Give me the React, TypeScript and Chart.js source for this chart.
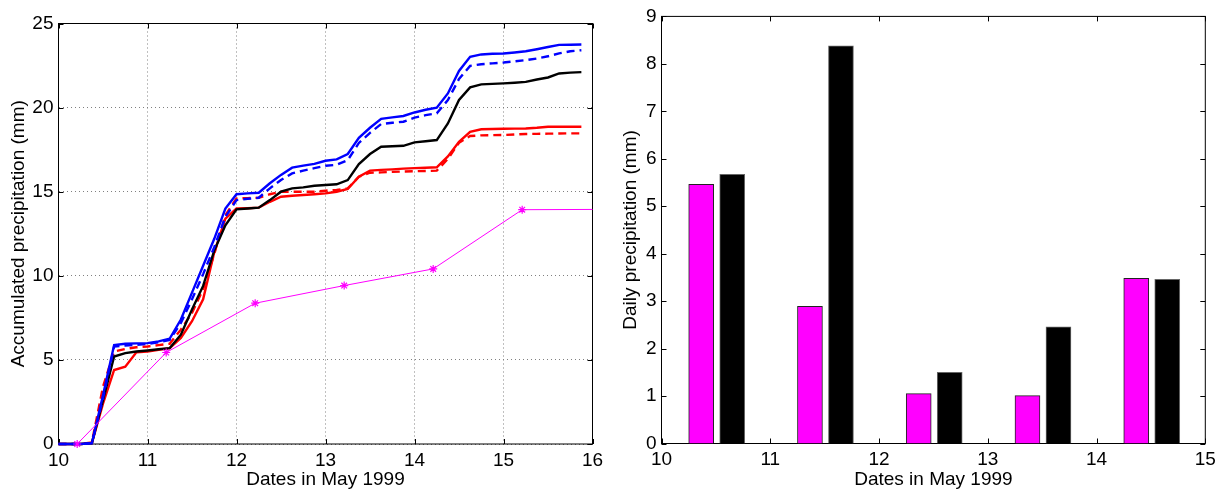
import React, { useEffect, useRef } from "react";
import { Chart, registerables } from "chart.js";

Chart.register(...registerables);

const FONT = "'Liberation Sans', Arial, Helvetica, sans-serif";

// ---------- Left chart: accumulated precipitation ----------
const accDates = [
  10, 10.125, 10.25, 10.375, 10.5, 10.625, 10.75, 10.875,
  11, 11.125, 11.25, 11.375, 11.5, 11.625, 11.75, 11.875,
  12, 12.125, 12.25, 12.375, 12.5, 12.625, 12.75, 12.875,
  13, 13.125, 13.25, 13.375, 13.5, 13.625, 13.75, 13.875,
  14, 14.125, 14.25, 14.375, 14.5, 14.625, 14.75, 14.875,
  15, 15.125, 15.25, 15.375, 15.5, 15.625, 15.75, 15.875,
];
const blueSolid = [
  0, 0, 0, 0.05, 2.9, 5.88, 5.96, 5.98,
  6.0, 6.1, 6.27, 7.4, 9.0, 10.6, 12.2, 14.0,
  14.85, 14.9, 14.94, 15.5, 16.0, 16.43, 16.55, 16.65,
  16.84, 16.92, 17.24, 18.2, 18.8, 19.33, 19.42, 19.5,
  19.71, 19.87, 19.99, 20.84, 22.18, 23.02, 23.16, 23.2,
  23.22, 23.28, 23.35, 23.47, 23.6, 23.73, 23.74, 23.75,
];
const blueDashed = [
  0, 0, 0, 0.05, 2.7, 5.8, 5.85, 5.9,
  5.95, 6.05, 6.19, 7.2, 8.6, 10.1, 11.7, 13.5,
  14.5, 14.58, 14.64, 15.2, 15.7, 16.09, 16.25, 16.4,
  16.54, 16.6, 16.88, 17.9, 18.5, 19.02, 19.1, 19.16,
  19.4, 19.55, 19.66, 20.45, 21.7, 22.48, 22.58, 22.63,
  22.68, 22.75, 22.82, 22.92, 23.05, 23.22, 23.35, 23.41,
];
const blackSolid = [
  0, 0, 0, 0.05, 2.6, 5.2, 5.4, 5.5,
  5.56, 5.63, 5.7, 6.5, 8.0, 9.4, 11.5, 13.0,
  13.95, 14.0, 14.05, 14.5, 15.0, 15.2, 15.26, 15.35,
  15.4, 15.44, 15.69, 16.64, 17.24, 17.67, 17.7, 17.73,
  17.93, 18.0, 18.07, 19.06, 20.45, 21.2, 21.38, 21.41,
  21.44, 21.48, 21.53, 21.67, 21.79, 22.03, 22.08, 22.11,
];
const redSolid = [
  0, 0, 0, 0.05, 2.4, 4.4, 4.6, 5.45,
  5.5, 5.6, 5.7, 6.3, 7.3, 8.6, 11.4, 13.4,
  14.0, 14.02, 14.05, 14.4, 14.7, 14.76, 14.8, 14.85,
  14.9, 15.0, 15.16, 15.89, 16.25, 16.3, 16.33, 16.37,
  16.4, 16.42, 16.45, 17.1, 17.97, 18.56, 18.71, 18.73,
  18.74, 18.75, 18.76, 18.8, 18.86, 18.86, 18.86, 18.86,
];
const redDashed = [
  0, 0, 0, 0.1, 3.4, 5.5, 5.65, 5.75,
  5.8, 5.88, 5.96, 6.8, 7.8, 9.2, 11.3, 13.6,
  14.6, 14.62, 14.64, 14.85, 15.0, 15.0, 15.0, 15.0,
  15.06, 15.1, 15.2, 15.89, 16.13, 16.15, 16.18, 16.2,
  16.22, 16.23, 16.25, 16.95, 17.91, 18.31, 18.35, 18.36,
  18.37, 18.4, 18.43, 18.44, 18.45, 18.46, 18.47, 18.47,
];
const obsDates = [10.21, 11.21, 12.21, 13.21, 14.21, 15.21, 16.21];
const obsAcc = [0, 5.44, 8.37, 9.42, 10.41, 13.93, 13.95];

// ---------- Right chart: daily precipitation ----------
const dailyObsX = [10.365, 11.365, 12.365, 13.365, 14.365];
const dailyObs = [5.46, 2.89, 1.05, 1.01, 3.48];
const dailyModelX = [10.65, 11.65, 12.65, 13.65, 14.65];
const dailyModel = [5.67, 8.38, 1.5, 2.46, 3.46];

const xTitle = "Dates in May 1999";
const yTitleLeft = "Accumulated precipitation (mm)";
const yTitleRight = "Daily precipitation (mm)";

const pts = (xs: number[], ys: number[]) => xs.map((x, i) => ({ x, y: ys[i] }));

const framePlugin = {
  id: "frameTicks",
  beforeDatasetsDraw(chart: any) {
    const { ctx, chartArea: a, scales } = chart;
    const tl = 5;
    ctx.save();
    ctx.strokeStyle = "#000";
    ctx.lineWidth = 1;
    ctx.beginPath();
    for (const t of scales.x.ticks) {
      const px = Math.round(scales.x.getPixelForValue(t.value)) + 0.5;
      ctx.moveTo(px, a.bottom);
      ctx.lineTo(px, a.bottom - tl);
      ctx.moveTo(px, a.top);
      ctx.lineTo(px, a.top + tl);
    }
    for (const t of scales.y.ticks) {
      const py = Math.round(scales.y.getPixelForValue(t.value)) + 0.5;
      ctx.moveTo(a.left, py);
      ctx.lineTo(a.left + tl, py);
      ctx.moveTo(a.right, py);
      ctx.lineTo(a.right - tl, py);
    }
    ctx.stroke();
    ctx.strokeRect(a.left, a.top, a.right - a.left, a.bottom - a.top);
    ctx.restore();
  },
};

const tickFont = { family: FONT, size: 19 };
const titleFont = { family: FONT, size: 19 };

function LeftChart() {
  const ref = useRef<HTMLCanvasElement>(null);
  useEffect(() => {
    const lineDs = (label: string, ys: number[], color: string, dashed: boolean) => ({
      label,
      data: pts(accDates, ys),
      borderColor: color,
      backgroundColor: color,
      borderWidth: 2.4,
      borderDash: dashed ? [8, 5] : [],
      pointRadius: 0,
      tension: 0,
      clip: { left: 4, top: 4, bottom: 4, right: 0 },
    });
    const chart = new Chart(ref.current!, {
      type: "line",
      data: {
        datasets: [
          {
            label: "obs",
            data: pts(obsDates, obsAcc),
            borderColor: "#ff00ff",
            backgroundColor: "#ff00ff",
            borderWidth: 1,
            pointStyle: "star",
            pointRadius: 4,
            pointBorderWidth: 1.2,
            pointBorderColor: "#ff00ff",
            tension: 0,
            clip: { left: 6, top: 6, bottom: 6, right: 0 },
          },
          lineDs("blue", blueSolid, "#0000ff", false),
          lineDs("blueDashed", blueDashed, "#0000ff", true),
          lineDs("black", blackSolid, "#000000", false),
          lineDs("red", redSolid, "#ff0000", false),
          lineDs("redDashed", redDashed, "#ff0000", true),
        ] as any,
      },
      options: {
        animation: false,
        responsive: false,
        devicePixelRatio: 1,
        events: [],
        layout: { padding: { left: 0, top: 23.5, right: 17.5, bottom: 0 } },
        plugins: { legend: { display: false }, tooltip: { enabled: false } },
        scales: {
          x: {
            type: "linear",
            min: 10,
            max: 16,
            ticks: { stepSize: 1, color: "#000", font: tickFont, padding: 5, maxRotation: 0 },
            grid: { color: "#808080", lineWidth: 1, drawTicks: false },
            border: { display: false, dash: [1, 3] },
            title: { display: true, text: xTitle, color: "#000", font: titleFont, padding: { top: 0, bottom: 5 } },
            afterFit: (s: any) => { s.height = 52; },
          },
          y: {
            type: "linear",
            min: 0,
            max: 25,
            ticks: { stepSize: 5, color: "#000", font: tickFont, padding: 5 },
            grid: { color: "#808080", lineWidth: 1, drawTicks: false },
            border: { display: false, dash: [1, 3] },
            title: { display: true, text: yTitleLeft, color: "#000", font: titleFont, padding: { top: 7, bottom: 0 } },
            afterFit: (s: any) => { s.width = 58.5; },
          },
        },
      } as any,
      plugins: [framePlugin],
    });
    return () => chart.destroy();
  }, []);
  return (
    <canvas
      ref={ref}
      width={610}
      height={496}
      style={{ position: "absolute", left: 0, top: 0, width: 610, height: 496 }}
    />
  );
}

function RightChart() {
  const ref = useRef<HTMLCanvasElement>(null);
  useEffect(() => {
    const chart = new Chart(ref.current!, {
      type: "bar",
      data: {
        datasets: [
          {
            label: "obs",
            data: pts(dailyObsX, dailyObs),
            backgroundColor: "#ff00ff",
            borderColor: "#222222",
            borderWidth: 1,
            barThickness: 25,
            grouped: false,
          },
          {
            label: "model",
            data: pts(dailyModelX, dailyModel),
            backgroundColor: "#000000",
            borderColor: "#666666",
            borderWidth: 1,
            barThickness: 25,
            grouped: false,
          },
        ] as any,
      },
      options: {
        animation: false,
        responsive: false,
        devicePixelRatio: 1,
        events: [],
        layout: { padding: { left: 0, top: 14.5, right: 25.7, bottom: 0 } },
        plugins: { legend: { display: false }, tooltip: { enabled: false } },
        scales: {
          x: {
            type: "linear",
            min: 10,
            max: 15,
            offset: false,
            ticks: { stepSize: 1, color: "#000", font: tickFont, padding: 5, maxRotation: 0 },
            grid: { display: false, offset: false, drawTicks: false },
            border: { display: false },
            title: { display: true, text: xTitle, color: "#000", font: titleFont, padding: { top: 0, bottom: 5 } },
            afterFit: (s: any) => { s.height = 52.5; },
          },
          y: {
            type: "linear",
            min: 0,
            max: 9,
            ticks: { stepSize: 1, color: "#000", font: tickFont, padding: 5 },
            grid: { display: false, drawTicks: false },
            border: { display: false },
            title: { display: true, text: yTitleRight, color: "#000", font: titleFont, padding: { top: 9.5, bottom: 0 } },
            afterFit: (s: any) => { s.width = 51.5; },
          },
        },
      } as any,
      plugins: [framePlugin],
    });
    return () => chart.destroy();
  }, []);
  return (
    <canvas
      ref={ref}
      width={621}
      height={496}
      style={{ position: "absolute", left: 610, top: 0, width: 621, height: 496 }}
    />
  );
}

export default function App() {
  return (
    <div style={{ position: "absolute", left: 0, top: 0, width: 1231, height: 496, background: "#fff" }}>
      <LeftChart />
      <RightChart />
    </div>
  );
}
